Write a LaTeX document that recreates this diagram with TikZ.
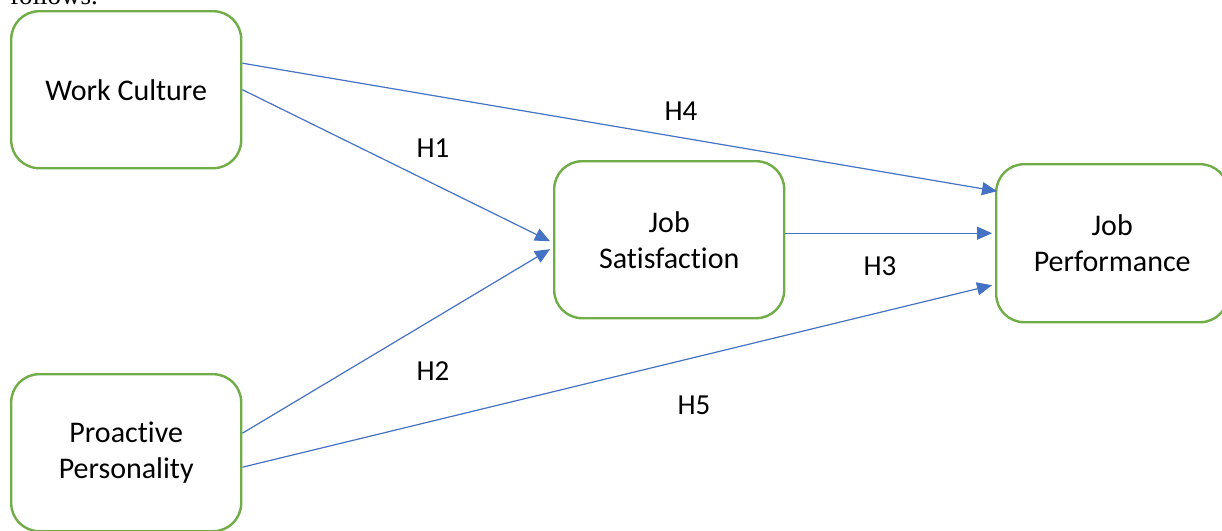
\documentclass[tikz,border=0pt]{standalone}
\usepackage{fontspec}
\setmainfont{Carlito}[Ligatures={NoCommon}]
\newfontfamily\serifpart{Liberation Serif}
\usetikzlibrary{arrows.meta}
\definecolor{boxgreen}{HTML}{70AD47}
\definecolor{arrowblue}{HTML}{4472C4}
\begin{document}
\begin{tikzpicture}[x=1pt,y=-1pt,
  box/.style={draw=boxgreen,line width=2.4pt,rounded corners=28pt,fill=white,
    minimum width=230pt,minimum height=157pt,align=center,
    font=\fontsize{30}{36}\selectfont,inner sep=0pt,anchor=north west},
  link/.style={draw=arrowblue,line width=1.2pt,-{Triangle[length=15pt,width=13pt]}},
  hlab/.style={font=\fontsize{29}{34}\selectfont,inner sep=0pt}]
\useasboundingbox (0,0) rectangle (1222,530);
\begin{scope}
\clip (0,0) rectangle (1222,530);
\node[anchor=base west,inner sep=0pt,font=\serifpart\fontsize{27}{30}\selectfont] (fol) at (10,5) {follows.};
\node[box] (wc) at (10,10) {Work Culture};
\node[box] (pp) at (10,373) {Proactive\\Personality};
\node[box] (js) at (553,160) {Job\\Satisfaction};
\node[box,minimum width=232pt,minimum height=158pt] (jp) at (995,163) {Job\\Performance};
\end{scope}
\draw[link] ([yshift=26.5pt]wc.east) -- ([yshift=52pt,xshift=2pt]jp.west);
\draw[link] ([yshift=0pt]wc.east) -- ([yshift=-1.5pt,xshift=-3pt]js.west);
\draw[link] ([yshift=19.5pt]pp.east) -- ([yshift=-9.5pt,xshift=-3pt]js.west);
\draw[link] ([yshift=6.5pt]js.east) -- ([yshift=10pt,xshift=-3pt]jp.west);
\draw[link] ([yshift=-14.5pt]pp.east) -- ([yshift=-42pt,xshift=-3pt]jp.west);
\node[hlab] (h4) at (681,111) {H4};
\node[hlab] (h1) at (433,148) {H1};
\node[hlab] (h3) at (880,266) {H3};
\node[hlab] (h2) at (433,371) {H2};
\node[hlab] (h5) at (694,405) {H5};
\end{tikzpicture}
\end{document}
